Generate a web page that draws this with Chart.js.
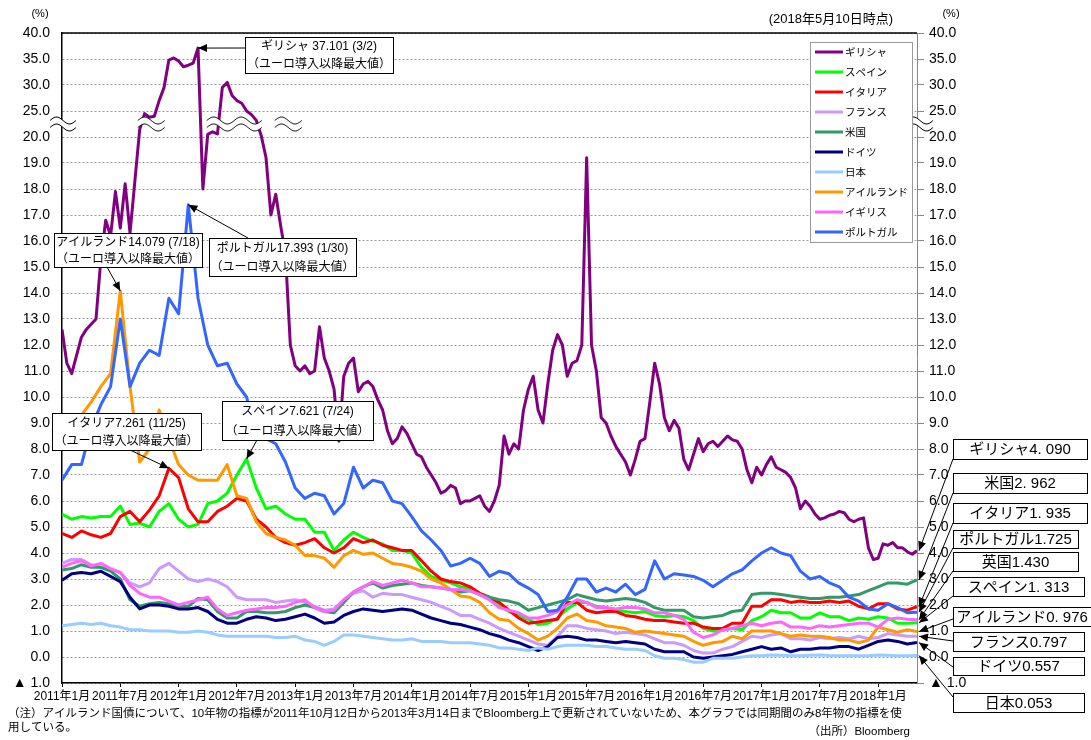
<!DOCTYPE html>
<html>
<head>
<meta charset="utf-8">
<title>10年国債利回り</title>
<script src="https://cdn.jsdelivr.net/npm/chart.js@4.4.1/dist/chart.umd.min.js"></script>
<style>
  body { margin: 0; background: #fff; }
  canvas { display: block; }
</style>
</head>
<body>
<canvas id="line-chart" width="1091" height="740"></canvas>
<script>
var FUENTE = "'Liberation Sans', 'Noto Sans CJK JP', sans-serif";

// series, in legend order
var paises = ['ギリシャ', 'スペイン', 'イタリア', 'フランス', '米国', 'ドイツ', '日本', 'アイルランド', 'イギリス', 'ポルトガル'];
var colores = ['#800080', '#00ff00', '#ff0000', '#cc99ff', '#339966', '#000080', '#99ccff', '#ff9900', '#ff66ff', '#3366ff'];

// months from 2011/1 between two readings of each series
var pasos = [0.5, 1, 1, 1, 1, 1, 1, 1, 1, 1];

// x axis labels (every 6 months)
var etiquetasX = ['2011年1月', '2011年7月', '2012年1月', '2012年7月', '2013年1月', '2013年7月', '2014年1月',
  '2014年7月', '2015年1月', '2015年7月', '2016年1月', '2016年7月', '2017年1月', '2017年7月', '2018年1月'];
// labels of the compressed part above 20%
var etiquetasCorte = ['25.0', '30.0', '35.0', '40.0'];

// yields (%) — Greece every half month, the rest monthly
var grecia = [
  12.6, 11.3, 10.9, 11.6, 12.3, 12.6, 12.8, 13.0, 15.3, 16.8, 16.2, 17.9,
  16.5, 18.2, 16.3, 18.3, 21.5, 24.5, 23.8, 24.0, 27.0, 29.5, 34.8, 35.2,
  34.6, 33.5, 33.8, 34.2, 37.101, 18.0, 20.5, 21.0, 20.6, 29.5, 30.5, 28.0,
  27.0, 26.5, 25.0, 24.3, 23.2, 20.3, 19.2, 17.0, 17.8, 16.6, 15.5, 12.0,
  11.2, 11.0, 11.2, 10.9, 11.0, 12.7, 11.5, 11.0, 10.3, 8.3, 10.8, 11.3,
  11.5, 10.2, 10.5, 10.6, 10.4, 9.9, 9.5, 8.7, 8.2, 8.4, 8.85, 8.6,
  8.2, 7.8, 7.7, 7.3, 7.0, 6.7, 6.3, 6.4, 6.6, 6.5, 5.9, 6.0,
  6.0, 6.1, 6.2, 5.8, 5.6, 6.0, 6.6, 8.5, 7.8, 8.2, 8.0, 9.5,
  10.3, 10.8, 9.5, 9.0, 10.5, 11.8, 12.4, 12.0, 10.8, 11.3, 11.4, 12.0,
  19.2, 12.0, 11.0, 9.2, 9.0, 8.5, 8.1, 7.8, 7.5, 7.0, 7.6, 8.3,
  8.4, 9.8, 11.3, 10.5, 9.2, 8.7, 9.1, 8.8, 7.6, 7.2, 7.8, 8.4,
  7.9, 8.2, 8.3, 8.1, 8.3, 8.5, 8.35, 8.3, 8.0, 7.2, 6.7, 7.3,
  7.0, 7.4, 7.7, 7.3, 7.2, 7.1, 6.9, 6.5, 5.7, 6.0, 5.8, 5.5,
  5.3, 5.35, 5.45, 5.5, 5.6, 5.55, 5.3, 5.2, 5.3, 5.35, 4.2, 3.75,
  3.8, 4.35, 4.3, 4.4, 4.2, 4.2, 4.05, 3.95, 4.09
];
var espana = [
  5.5, 5.3, 5.4, 5.35, 5.4, 5.4, 5.8, 5.1, 5.15, 5.0, 5.6, 5.9,
  5.3, 5.0, 5.1, 5.9, 6.0, 6.3, 7.0, 7.621, 6.5, 5.7, 5.8, 5.5,
  5.3, 5.3, 4.8, 4.8, 4.1, 4.5, 4.8, 4.6, 4.45, 4.35, 4.1, 4.1,
  4.0, 3.45, 3.1, 2.95, 2.85, 2.7, 2.65, 2.4, 2.2, 2.0, 1.75, 1.6,
  1.45, 1.25, 1.3, 1.5, 1.85, 2.1, 2.1, 1.95, 1.9, 1.8, 1.75, 1.7,
  1.75, 1.6, 1.55, 1.6, 1.55, 1.4, 1.1, 1.0, 1.05, 1.1, 1.05, 1.4,
  1.55, 1.8, 1.7, 1.7, 1.5, 1.5, 1.7, 1.55, 1.55, 1.4, 1.5, 1.45,
  1.55, 1.5, 1.3, 1.3, 1.313
];
var italia = [
  4.75, 4.6, 4.85, 4.7, 4.6, 4.75, 5.4, 5.6, 5.2, 5.65, 6.2, 7.261,
  6.9, 5.7, 5.2, 5.2, 5.6, 5.8, 6.1, 6.0, 5.3, 5.0, 4.6, 4.4,
  4.3, 4.4, 4.55, 4.2, 4.0, 4.2, 4.55, 4.4, 4.5, 4.3, 4.2, 4.1,
  4.1, 3.7, 3.3, 3.0, 2.9, 2.85, 2.7, 2.45, 2.3, 2.1, 1.8, 1.5,
  1.3, 1.35, 1.4, 1.45, 2.1, 2.1, 1.8, 1.7, 1.75, 1.75, 1.6, 1.55,
  1.45, 1.4, 1.4, 1.35, 1.3, 1.3, 1.15, 1.1, 1.1, 1.3, 1.3, 1.95,
  1.95, 2.2, 2.2, 2.1, 2.15, 2.1, 2.1, 2.15, 2.1, 2.15, 1.95, 1.85,
  2.05, 2.05, 1.85, 1.8, 1.935
];
var francia = [
  3.6, 3.75, 3.75, 3.55, 3.45, 3.35, 3.25, 2.85, 2.7, 2.85, 3.4, 3.6,
  3.3, 3.0, 2.9, 3.0, 2.9, 2.7, 2.3, 2.2, 2.2, 2.2, 2.1, 2.15,
  2.2, 2.1, 1.95, 1.8, 1.85, 2.2, 2.45, 2.55, 2.3, 2.45, 2.4, 2.4,
  2.3, 2.2, 2.1, 1.95, 1.8, 1.6, 1.6, 1.45, 1.3, 1.1, 0.95, 0.8,
  0.65, 0.5, 0.45, 0.8, 1.2, 1.2, 1.1, 1.05, 1.0, 0.9, 0.95, 0.9,
  0.85, 0.7, 0.55, 0.55, 0.45, 0.25, 0.15, 0.15, 0.3, 0.4, 0.6, 0.8,
  0.75, 0.85, 0.9, 0.7, 0.7, 0.65, 0.75, 0.7, 0.75, 0.7, 0.8, 0.7,
  0.75, 0.9, 0.85, 0.8, 0.797
];
var eeuu = [
  3.35, 3.4, 3.55, 3.45, 3.45, 3.3, 3.0, 2.2, 1.95, 2.05, 2.1, 2.05,
  1.95, 1.95, 2.25, 2.2, 1.75, 1.5, 1.5, 1.75, 1.75, 1.7, 1.7, 1.75,
  1.9, 2.0, 1.9, 1.75, 1.7, 2.1, 2.5, 2.7, 2.85, 2.65, 2.75, 2.8,
  2.85, 2.75, 2.7, 2.65, 2.6, 2.5, 2.55, 2.4, 2.3, 2.2, 2.15, 2.05,
  1.8, 1.9, 2.0, 2.1, 2.2, 2.4, 2.3, 2.2, 2.15, 2.2, 2.25, 2.2,
  2.1, 1.9, 1.8, 1.8, 1.8, 1.55, 1.5, 1.55, 1.6, 1.75, 1.8, 2.4,
  2.45, 2.45, 2.4, 2.35, 2.3, 2.25, 2.25, 2.3, 2.3, 2.35, 2.4, 2.55,
  2.7, 2.85, 2.85, 2.8, 2.962
];
var alemania = [
  2.95, 3.2, 3.25, 3.2, 3.3, 3.1, 2.9, 2.3, 1.85, 2.0, 2.0, 1.95,
  1.85, 1.85, 1.9, 1.75, 1.45, 1.3, 1.3, 1.45, 1.55, 1.5, 1.4, 1.45,
  1.55, 1.65, 1.5, 1.3, 1.35, 1.6, 1.75, 1.85, 1.8, 1.75, 1.8, 1.85,
  1.8, 1.65, 1.5, 1.4, 1.3, 1.25, 1.15, 1.05, 0.9, 0.8, 0.65, 0.55,
  0.4, 0.25, 0.4, 0.75, 0.8, 0.75, 0.65, 0.65, 0.6, 0.55, 0.6, 0.55,
  0.5, 0.3, 0.2, 0.2, 0.2, 0.0, -0.05, 0.0, 0.05, 0.1, 0.2, 0.3,
  0.4, 0.3, 0.35, 0.2, 0.3, 0.3, 0.35, 0.35, 0.4, 0.4, 0.3, 0.45,
  0.6, 0.65, 0.6, 0.5, 0.557
];
var japon = [
  1.2, 1.25, 1.3, 1.25, 1.3, 1.2, 1.15, 1.05, 1.05, 1.0, 1.0, 1.0,
  0.95, 0.95, 1.0, 0.95, 0.85, 0.8, 0.8, 0.8, 0.8, 0.8, 0.75, 0.75,
  0.8, 0.65, 0.6, 0.45, 0.6, 0.85, 0.85, 0.8, 0.75, 0.7, 0.65, 0.65,
  0.7, 0.6, 0.6, 0.6, 0.55, 0.55, 0.55, 0.5, 0.45, 0.35, 0.35, 0.3,
  0.25, 0.35, 0.3, 0.4, 0.45, 0.45, 0.45, 0.4, 0.4, 0.35, 0.3, 0.3,
  0.25, 0.05, -0.05, -0.05, -0.1, -0.2, -0.2, -0.05, -0.05, -0.05, 0.0, 0.05,
  0.05, 0.08, 0.07, 0.05, 0.05, 0.07, 0.08, 0.06, 0.05, 0.05, 0.05, 0.05,
  0.08, 0.07, 0.05, 0.05, 0.053
];
var irlanda = [
  9.0, 9.0, 9.3, 9.8, 10.4, 10.9, 14.079, 10.4, 7.5, 8.0, 9.5, 8.4,
  7.4, 7.0, 6.8, 6.8, 6.8, 7.4, 6.2, 6.1, 5.2, 4.75, 4.6, 4.5,
  4.3, 3.9, 3.9, 3.8, 3.45, 3.9, 4.1, 3.95, 4.0, 3.8, 3.6, 3.55,
  3.45, 3.3, 3.0, 2.85, 2.6, 2.35, 2.3, 2.1, 1.7, 1.45, 1.4, 1.1,
  0.9, 0.65, 0.8, 1.1, 1.5, 1.65, 1.4, 1.35, 1.2, 1.15, 1.1, 0.95,
  1.0, 0.95, 0.9, 0.85, 0.8, 0.6, 0.45, 0.55, 0.6, 0.8, 0.7, 1.0,
  1.0, 1.0, 0.9, 0.8, 0.85, 0.8, 0.8, 0.75, 0.65, 0.65, 0.55, 0.65,
  1.15, 1.05, 0.95, 1.05, 0.976
];
var inglaterra = [
  3.45, 3.6, 3.7, 3.5, 3.6, 3.4, 3.25, 2.75, 2.45, 2.3, 2.3, 2.15,
  2.0, 2.1, 2.2, 2.3, 1.85, 1.6, 1.7, 1.8, 1.85, 1.9, 1.9, 1.95,
  2.1, 2.2, 1.9, 1.75, 1.8, 2.2, 2.5, 2.7, 2.9, 2.75, 2.85, 2.95,
  2.85, 2.7, 2.7, 2.65, 2.6, 2.6, 2.55, 2.4, 2.2, 1.9, 1.8, 1.7,
  1.5, 1.5, 1.6, 1.75, 2.0, 2.2, 2.1, 1.9, 1.9, 1.85, 1.9, 1.9,
  1.85, 1.7, 1.7, 1.6, 1.45, 0.95, 0.75, 0.85, 1.05, 1.1, 1.2, 1.3,
  1.2, 1.3, 1.35, 1.15, 1.15, 1.1, 1.2, 1.15, 1.2, 1.25, 1.3, 1.3,
  1.15, 1.45, 1.5, 1.45, 1.43
];
var portugal = [
  6.8, 7.4, 7.4, 8.8, 9.7, 10.4, 13.0, 10.4, 11.3, 11.8, 11.6, 13.8,
  13.2, 17.393, 13.8, 12.0, 11.2, 11.3, 10.5, 10.0, 8.5, 8.4, 8.2, 7.5,
  6.5, 6.1, 6.3, 6.2, 5.5, 5.9, 7.3, 6.5, 6.8, 6.7, 6.0, 5.9,
  5.4, 4.85, 4.5, 4.1, 3.5, 3.6, 3.8, 3.6, 3.1, 3.3, 3.2, 2.85,
  2.65, 2.4, 1.75, 1.8, 2.3, 3.0, 3.0, 2.5, 2.65, 2.5, 2.8, 2.4,
  2.6, 3.7, 3.0, 3.2, 3.15, 3.1, 2.95, 2.7, 2.95, 3.2, 3.35, 3.7,
  4.0, 4.2, 4.0, 3.9, 3.3, 3.0, 3.1, 2.85, 2.7, 2.3, 2.15, 1.85,
  1.8, 2.05, 1.9, 1.7, 1.725
];
var series = [grecia, espana, italia, francia, eeuu, alemania, japon, irlanda, inglaterra, portugal];

// notes on the highest value since the euro
var notasPico = ['ギリシャ 37.101 (3/2)', 'アイルランド14.079 (7/18)', 'ポルトガル17.393 (1/30)', 'イタリア7.261 (11/25)', 'スペイン7.621 (7/24)'];
var seriesPico = [0, 7, 9, 2, 1];
// latest readings (2018/5/10)
var notasUltimo = ['ギリシャ4. 090', '米国2. 962', 'イタリア1. 935', 'ポルトガル1.725', '英国1.430',
  'スペイン1. 313', 'アイルランド0. 976', 'フランス0.797', 'ドイツ0.557', '日本0.053'];
var seriesUltimo = [0, 4, 2, 9, 8, 1, 7, 3, 5, 6];

// above 20% the axis is compressed 5:1
function aEje(v) {
  return v > 20 ? 20 + (v - 20) / 5 : v;
}

function etiquetaY(v) {
  if (v === -1) return '▲ 1.0';
  if (v > 20) return etiquetasCorte[v - 21];
  return v.toFixed(1);
}

function flecha(ctx, x1, y1, x2, y2) {
  var ang = Math.atan2(y2 - y1, x2 - x1);
  ctx.beginPath(); ctx.moveTo(x1, y1); ctx.lineTo(x2, y2); ctx.stroke();
  ctx.beginPath();
  ctx.moveTo(x2, y2);
  ctx.lineTo(x2 - 9 * Math.cos(ang) + 4 * Math.sin(ang), y2 - 9 * Math.sin(ang) - 4 * Math.cos(ang));
  ctx.lineTo(x2 - 9 * Math.cos(ang) - 4 * Math.sin(ang), y2 - 9 * Math.sin(ang) + 4 * Math.cos(ang));
  ctx.closePath(); ctx.fill();
}

function caja(ctx, x, y, w, h, lineas, tam) {
  ctx.fillStyle = '#fff'; ctx.fillRect(x, y, w, h);
  ctx.strokeStyle = '#000'; ctx.lineWidth = 1; ctx.strokeRect(x + 0.5, y + 0.5, w, h);
  ctx.fillStyle = '#000'; ctx.font = tam + 'px ' + FUENTE;
  ctx.textAlign = 'center'; ctx.textBaseline = 'middle';
  var paso = h / lineas.length;
  for (var i = 0; i < lineas.length; i++) {
    ctx.fillText(lineas[i], x + w / 2, y + paso * (i + 0.5) + 1);
  }
}

// wavy break mark
function ondas(ctx, x0, w, yc, vueltas) {
  var amp = 3.5, sep = 3.5;
  function y(i, d) { return yc + d - amp * Math.sin(2 * Math.PI * vueltas * i / w); }
  ctx.beginPath();
  for (var i = 0; i <= w; i++) { if (i === 0) ctx.moveTo(x0, y(0, -sep)); else ctx.lineTo(x0 + i, y(i, -sep)); }
  for (i = w; i >= 0; i--) ctx.lineTo(x0 + i, y(i, sep));
  ctx.closePath();
  ctx.fillStyle = '#fff'; ctx.fill();
  ctx.strokeStyle = '#000'; ctx.lineWidth = 1;
  [-sep, sep].forEach(function (d) {
    ctx.beginPath();
    for (var k = 0; k <= w; k++) { if (k === 0) ctx.moveTo(x0, y(0, d)); else ctx.lineTo(x0 + k, y(k, d)); }
    ctx.stroke();
  });
}

var cajasPico = [
  { x: 245, y: 37, w: 148, h: 36, ax: 245, ay: 48 },
  { x: 54, y: 233, w: 148, h: 34, ax: 107, ay: 267 },
  { x: 209, y: 238, w: 147, h: 38, ax: 248, ay: 238 },
  { x: 52, y: 413, w: 149, h: 37, ax: 130, ay: 450 },
  { x: 222, y: 401, w: 151, h: 39, ax: 257, ay: 440 }
];
var cajasUltimo = [
  { y: 439, h: 20, w: 134, ay: 459 },
  { y: 473, h: 20, w: 134, ay: 493 },
  { y: 503, h: 20, w: 134, ay: 523 },
  { y: 530, h: 18, w: 125, ay: 548 },
  { y: 552, h: 19, w: 125, ay: 571 },
  { y: 577, h: 19, w: 131, ay: 596 },
  { y: 607, h: 19, w: 138, ay: 619 },
  { y: 632, h: 19, w: 131, ay: 641 },
  { y: 657, h: 18, w: 131, ay: 667 },
  { y: 693, h: 19, w: 131, ay: 697 }
];

var decorado = {
  id: 'decorado',
  afterDatasetsDraw: function (chart) {
    var ctx = chart.ctx, a = chart.chartArea, xs = chart.scales.x, ys = chart.scales.y;
    ctx.save();
    ctx.setLineDash([]);
    ctx.strokeStyle = '#000'; ctx.lineWidth = 1.5;
    ctx.beginPath(); ctx.moveTo(a.left, a.top); ctx.lineTo(a.right, a.top); ctx.stroke();

    var yb = ys.getPixelForValue(20.5);
    ondas(ctx, a.left - 12, 26, yb, 1);
    ondas(ctx, xs.getPixelForValue(7.8), 27, yb, 1);
    ondas(ctx, xs.getPixelForValue(14.9), 55, yb, 2);
    ondas(ctx, xs.getPixelForValue(21.9), 27, yb, 1);
    ondas(ctx, a.right - 10, 26, yb, 1);

    // peak notes
    ctx.lineWidth = 1;
    for (var i = 0; i < cajasPico.length; i++) {
      var s = seriesPico[i], datos = series[s];
      var max = Math.max.apply(null, datos), j = datos.indexOf(max);
      ctx.strokeStyle = '#000'; ctx.fillStyle = '#000';
      flecha(ctx, cajasPico[i].ax, cajasPico[i].ay, xs.getPixelForValue(j * pasos[s]), ys.getPixelForValue(aEje(max)));
      caja(ctx, cajasPico[i].x, cajasPico[i].y, cajasPico[i].w, cajasPico[i].h, [notasPico[i], '（ユーロ導入以降最大値）'], 12);
    }

    // legend
    ctx.fillStyle = '#fff'; ctx.fillRect(810, 42, 102, 200);
    ctx.strokeStyle = '#999'; ctx.lineWidth = 1; ctx.strokeRect(810.5, 42.5, 102, 200);
    ctx.font = '10.5px ' + FUENTE; ctx.textAlign = 'left'; ctx.textBaseline = 'middle';
    for (i = 0; i < paises.length; i++) {
      var yl = 52 + 20 * i;
      ctx.strokeStyle = colores[i]; ctx.lineWidth = 3;
      ctx.beginPath(); ctx.moveTo(815, yl); ctx.lineTo(843, yl); ctx.stroke();
      ctx.fillStyle = '#000'; ctx.fillText(paises[i], 845, yl + 1);
    }

    // latest values
    ctx.lineWidth = 1;
    for (i = 0; i < cajasUltimo.length; i++) {
      var k = seriesUltimo[i], d = series[k], c = cajasUltimo[i];
      ctx.strokeStyle = '#000'; ctx.fillStyle = '#000';
      flecha(ctx, 953, c.ay, xs.getPixelForValue((d.length - 1) * pasos[k]) + 2, ys.getPixelForValue(aEje(d[d.length - 1])));
      caja(ctx, 953, c.y, c.w, c.h, [notasUltimo[i]], 15);
    }
    ctx.restore();
  },
  afterDraw: function (chart) {
    var ctx = chart.ctx;
    ctx.save();
    ctx.fillStyle = '#000';
    ctx.textBaseline = 'middle';
    ctx.font = '11px ' + FUENTE; ctx.textAlign = 'center';
    ctx.fillText('(%)', 40, 14);
    ctx.fillText('(%)', 951, 14);
    ctx.font = '13px ' + FUENTE; ctx.textAlign = 'right';
    ctx.fillText('(2018年5月10日時点)', 893, 19);
    ctx.font = '11.5px ' + FUENTE; ctx.textAlign = 'left';
    ctx.fillText('（注）アイルランド国債について、10年物の指標が2011年10月12日から2013年3月14日までBloomberg上で更新されていないため、本グラフでは同期間のみ8年物の指標を使', 8, 714);
    ctx.fillText('用している。', 8, 728);
    ctx.textAlign = 'right';
    ctx.fillText('（出所）Bloomberg', 910, 732);
    ctx.restore();
  }
};

var datasets = series.map(function (valores, i) {
  return {
    label: paises[i],
    data: valores.map(function (v, j) { return { x: j * pasos[i], y: aEje(v) }; }),
    borderColor: colores[i],
    backgroundColor: colores[i],
    borderWidth: 3,
    borderJoinStyle: 'round',
    pointRadius: 0,
    fill: false,
    tension: 0,
    order: series.length - 1 - i
  };
});

var ticksY = { stepSize: 1, autoSkip: false, color: '#000', font: { family: FUENTE, size: 14 }, callback: etiquetaY };

new Chart(document.getElementById('line-chart'), {
  type: 'line',
  data: { datasets: datasets },
  options: {
    responsive: false,
    animation: false,
    devicePixelRatio: 1,
    layout: { padding: { top: 33, left: 0, right: 0, bottom: 0 } },
    plugins: { legend: { display: false }, tooltip: { enabled: false } },
    scales: {
      x: {
        type: 'linear', min: 0, max: 88,
        afterFit: function (s) { s.height = 57; },
        ticks: {
          stepSize: 6, autoSkip: false, maxRotation: 0, includeBounds: false, padding: 2, color: '#000',
          font: { family: FUENTE, size: 12 },
          callback: function (v) { return etiquetasX[v / 6]; }
        },
        grid: { drawOnChartArea: false, drawTicks: true, tickLength: 4, tickColor: '#000' },
        border: { color: '#000', width: 1.5 }
      },
      y: {
        position: 'left', min: -1, max: 24,
        afterFit: function (s) { s.width = 62; },
        ticks: Object.assign({ padding: 12 }, ticksY),
        grid: { color: '#9a9a9a', lineWidth: 1, drawTicks: false },
        border: { color: '#000', width: 1.5, dash: [2, 2] }
      },
      y2: {
        position: 'right', min: -1, max: 24,
        afterFit: function (s) { s.width = 174; },
        ticks: Object.assign({ padding: 5 }, ticksY),
        grid: { drawOnChartArea: false, drawTicks: true, tickLength: 7, tickColor: '#888' },
        border: { color: '#888', width: 1 }
      }
    }
  },
  plugins: [decorado]
});
</script>
</body>
</html>
